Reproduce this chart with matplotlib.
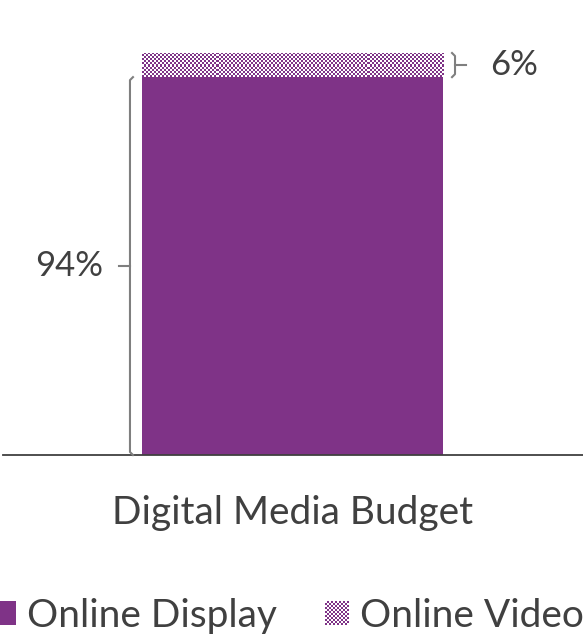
import numpy as np
import matplotlib
matplotlib.use("Agg")
import matplotlib.pyplot as plt
from matplotlib.patches import Rectangle
from matplotlib.collections import PatchCollection
from matplotlib.legend_handler import HandlerBase

categories = ["Digital Media Budget"]
series_names = ["Online Display", "Online Video"]
display_share = [94]
video_share = [6]

PURPLE = "#7F3387"
TEXT = "#404040"
BRACE = "#7F7F7F"

plt.rcParams["font.family"] = ["Lato", "DejaVu Sans"]

W, H = 583, 634
fig = plt.figure(figsize=(W / 100, H / 100), dpi=100)
ax = fig.add_axes([3 / W, (H - 455) / H, 580 / W, (455 - 53) / H])

x = np.arange(len(categories))
bar_w = 0.6
b1 = ax.bar(x, display_share, width=bar_w, color=PURPLE, linewidth=0, zorder=2)
b2 = ax.bar(x, video_share, bottom=display_share, width=bar_w,
            color="white", linewidth=0, zorder=2)


# checkerboard texture for the video segment, clipped to its bar
def checker(nx, ny):
    yy, xx = np.mgrid[0:ny, 0:nx]
    return ((xx + yy) % 2).astype(float)


cmap = matplotlib.colors.ListedColormap(["white", PURPLE])
for rect in b2:
    x0, y0 = rect.get_x(), rect.get_y()
    w, h = rect.get_width(), rect.get_height()
    img = ax.imshow(checker(150, 12), cmap=cmap, interpolation="nearest",
                    extent=[x0, x0 + w, y0, y0 + h], aspect="auto", zorder=3)
    img.set_clip_path(rect)

ax.set_xlim(-0.577, 0.579)
ax.set_ylim(0, 100)

for s in ["top", "right", "left"]:
    ax.spines[s].set_visible(False)
ax.spines["bottom"].set_color("#404040")
ax.spines["bottom"].set_linewidth(1.3)
ax.set_yticks([])
ax.set_xticks(x)
ax.set_xticklabels(categories, fontsize=28, color=TEXT)
ax.tick_params(axis="x", length=0, pad=29)

# braces with labels
px = 1 / 501.7  # one pixel in x data units
py = 100 / 402  # one pixel in y data units


def brace(xb, y0, y1, direction, label, gap):
    r = 3
    xs = [xb - direction * r * px, xb, xb, xb - direction * r * px]
    ys = [y0, y0 + r * py, y1 - r * py, y1]
    ax.plot(xs, ys, color=BRACE, lw=1.5, clip_on=False, zorder=4,
            solid_joinstyle="round")
    ym = (y0 + y1) / 2
    ax.plot([xb, xb + direction * 11 * px], [ym, ym], color=BRACE, lw=1.5,
            clip_on=False, zorder=4)
    ax.text(xb + direction * gap * px, ym, label, fontsize=25, color=TEXT,
            ha="right" if direction < 0 else "left", va="center")


for i, r1 in enumerate(b1):
    left = r1.get_x()
    right = left + r1.get_width()
    d = display_share[i]
    v = video_share[i]
    brace(left - 12 * px, 0, d, -1, f"{d}%", 27)
    brace(right + 12 * px, d, d + v, 1, f"{v}%", 35)


class CheckerHandler(HandlerBase):
    def create_artists(self, legend, orig_handle, xdescent, ydescent,
                       width, height, fontsize, trans):
        n = 12
        side = min(width, height)
        s = side / n
        x0 = -xdescent + (width - side) / 2
        y0 = -ydescent + (height - side) / 2
        squares = []
        for i in range(n):
            for j in range(n):
                if (i + j) % 2 == 0:
                    squares.append(Rectangle((x0 + i * s, y0 + j * s), s, s))
        pc = PatchCollection(squares, facecolor=PURPLE, edgecolor="none",
                             transform=trans)
        return [pc]


class SquareHandler(HandlerBase):
    def create_artists(self, legend, orig_handle, xdescent, ydescent,
                       width, height, fontsize, trans):
        side = min(width, height)
        x0 = -xdescent + (width - side) / 2
        y0 = -ydescent + (height - side) / 2
        r = Rectangle((x0, y0), side, side, facecolor=PURPLE,
                      edgecolor="none", transform=trans)
        return [r]


h1 = Rectangle((0, 0), 1, 1)
h2 = Rectangle((0, 0), 1, 1)
leg = fig.legend([h1, h2], series_names, loc="center",
                 bbox_to_anchor=(288 / W, (H - 616) / H), ncol=2, frameon=False,
                 fontsize=28, handler_map={h1: SquareHandler(),
                                           h2: CheckerHandler()},
                 handlelength=0.62, handleheight=0.62, handletextpad=0.28,
                 columnspacing=1.25, borderaxespad=0, borderpad=0)
for t in leg.get_texts():
    t.set_color(TEXT)

fig.savefig("out.png", dpi=100)
